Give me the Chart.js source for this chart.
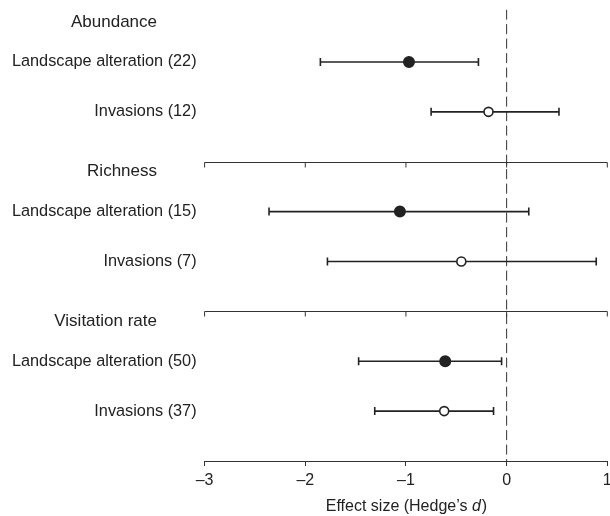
<!DOCTYPE html>
<html>
<head>
<meta charset="utf-8">
<script src="https://cdn.jsdelivr.net/npm/chart.js@4.4.1/dist/chart.umd.min.js"></script>
<style>
  body { margin: 0; background: #fff; }
  #wrap { width: 610px; height: 516px; }
</style>
</head>
<body>
<div id="wrap"><canvas id="chart"></canvas></div>
<script>
const groups = ['Abundance', 'Richness', 'Visitation rate'];
const rowLabels = [
    'Landscape alteration (22)', 'Invasions (12)',
    'Landscape alteration (15)', 'Invasions (7)',
    'Landscape alteration (50)', 'Invasions (37)',
];
const effect = [-0.97, -0.18, -1.06, -0.45, -0.61, -0.62];
const lower = [-1.85, -0.75, -2.36, -1.78, -1.47, -1.31];
const upper = [-0.28, 0.52, 0.22, 0.89, -0.05, -0.13];
const filled = [true, false, true, false, true, false];
const xTicks = [-3, -2, -1, 0, 1];

// two rows per group, one empty slot between groups
const rowY = rowLabels.map((_, i) => Math.floor(i / 2) * 3 + (i % 2));
const ink = '#222';
const font = 'Liberation Sans, Arial, sans-serif';

const ciSets = rowLabels.map((label, i) => ({
    type: 'line',
    data: [{ x: lower[i], y: rowY[i] }, { x: upper[i], y: rowY[i] }],
    borderColor: ink,
    borderWidth: 1.6,
    pointStyle: 'line',
    rotation: 90,
    pointRadius: 4,
    pointBorderWidth: 1.6,
    pointBorderColor: ink,
    order: 2,
}));

const zeroLine = {
    type: 'line',
    data: [{ x: 0, y: -1.05 }, { x: 0, y: 8 }],
    borderColor: '#333',
    borderWidth: 1,
    borderDash: [10, 4.5],
    pointRadius: 0,
    order: 3,
};

const meanSet = {
    type: 'scatter',
    data: effect.map((v, i) => ({ x: v, y: rowY[i] })),
    pointRadius: filled.map((f) => (f ? 5.2 : 4.5)),
    pointBackgroundColor: filled.map((f) => (f ? ink : '#fff')),
    pointBorderColor: ink,
    pointBorderWidth: 1.6,
    order: 1,
};

const extras = {
    id: 'extras',
    beforeDatasetsDraw(chart) {
        const { ctx, chartArea, scales } = chart;
        const x = scales.x;
        const y = scales.y;
        ctx.save();
        ctx.strokeStyle = '#333';
        ctx.lineWidth = 1;
        // separators between groups, with ticks like the axis
        for (let g = 1; g < groups.length; g++) {
            const py = Math.round(y.getPixelForValue(g * 3 - 1)) + 0.5;
            ctx.beginPath();
            ctx.moveTo(chartArea.left, py);
            ctx.lineTo(chartArea.right, py);
            xTicks.forEach((t) => {
                const px = x.getPixelForValue(t);
                ctx.moveTo(px, py);
                ctx.lineTo(px, py + 5);
            });
            ctx.stroke();
        }
        ctx.restore();
    },
    afterDraw(chart) {
        const { ctx, chartArea, scales } = chart;
        const y = scales.y;
        ctx.save();
        ctx.fillStyle = ink;
        ctx.textBaseline = 'middle';
        ctx.textAlign = 'right';
        ctx.font = '17px ' + font;
        groups.forEach((g, i) => {
            ctx.fillText(g, 157, y.getPixelForValue(i * 3 - 0.8));
        });
        // axis title with italic d
        const a = 'Effect size (Hedge\u2019s ';
        const b = 'd';
        const c = ')';
        ctx.font = '16px ' + font;
        const wa = ctx.measureText(a).width;
        const wc = ctx.measureText(c).width;
        ctx.font = 'italic 16px ' + font;
        const wb = ctx.measureText(b).width;
        let tx = (chartArea.left + chartArea.right) / 2 - (wa + wb + wc) / 2;
        const ty = 507;
        ctx.textAlign = 'left';
        ctx.font = '16px ' + font;
        ctx.fillText(a, tx, ty);
        ctx.font = 'italic 16px ' + font;
        ctx.fillText(b, tx + wa, ty);
        ctx.font = '16px ' + font;
        ctx.fillText(c, tx + wa + wb + 1, ty);
        ctx.restore();
    },
};

new Chart(document.querySelector('#chart'), {
    data: { datasets: [meanSet, ...ciSets, zeroLine] },
    options: {
        responsive: true,
        maintainAspectRatio: false,
        animation: false,
        layout: { autoPadding: false, padding: { top: 9.6, right: 2.7, left: 0, bottom: 0 } },
        plugins: { legend: { display: false }, tooltip: { enabled: false } },
        scales: {
            x: {
                type: 'linear',
                min: -3,
                max: 1,
                afterBuildTicks: (s) => { s.ticks = xTicks.map((v) => ({ value: v })); },
                afterFit: (s) => { s.height = 55; s.paddingLeft = 0; s.paddingRight = 0; },
                grid: { drawOnChartArea: false, drawTicks: true, tickLength: 5, color: '#333', lineWidth: 1 },
                border: { display: true, color: '#333', width: 1 },
                ticks: {
                    padding: 5,
                    color: ink,
                    font: { family: font, size: 16 },
                    maxRotation: 0,
                    callback: (v) => String(v).replace('-', '\u2013'),
                },
            },
            y: {
                type: 'linear',
                min: -1.05,
                max: 8,
                reverse: true,
                afterBuildTicks: (s) => { s.ticks = rowY.map((v) => ({ value: v })); },
                afterFit: (s) => { s.width = 204.6; s.paddingTop = 0; s.paddingBottom = 0; },
                grid: { display: false, drawTicks: false },
                border: { display: false },
                ticks: {
                    padding: 8,
                    color: ink,
                    font: { family: font, size: 16.3 },
                    callback: (v, i) => rowLabels[i],
                },
            },
        },
    },
    plugins: [extras],
});
</script>
</body>
</html>
